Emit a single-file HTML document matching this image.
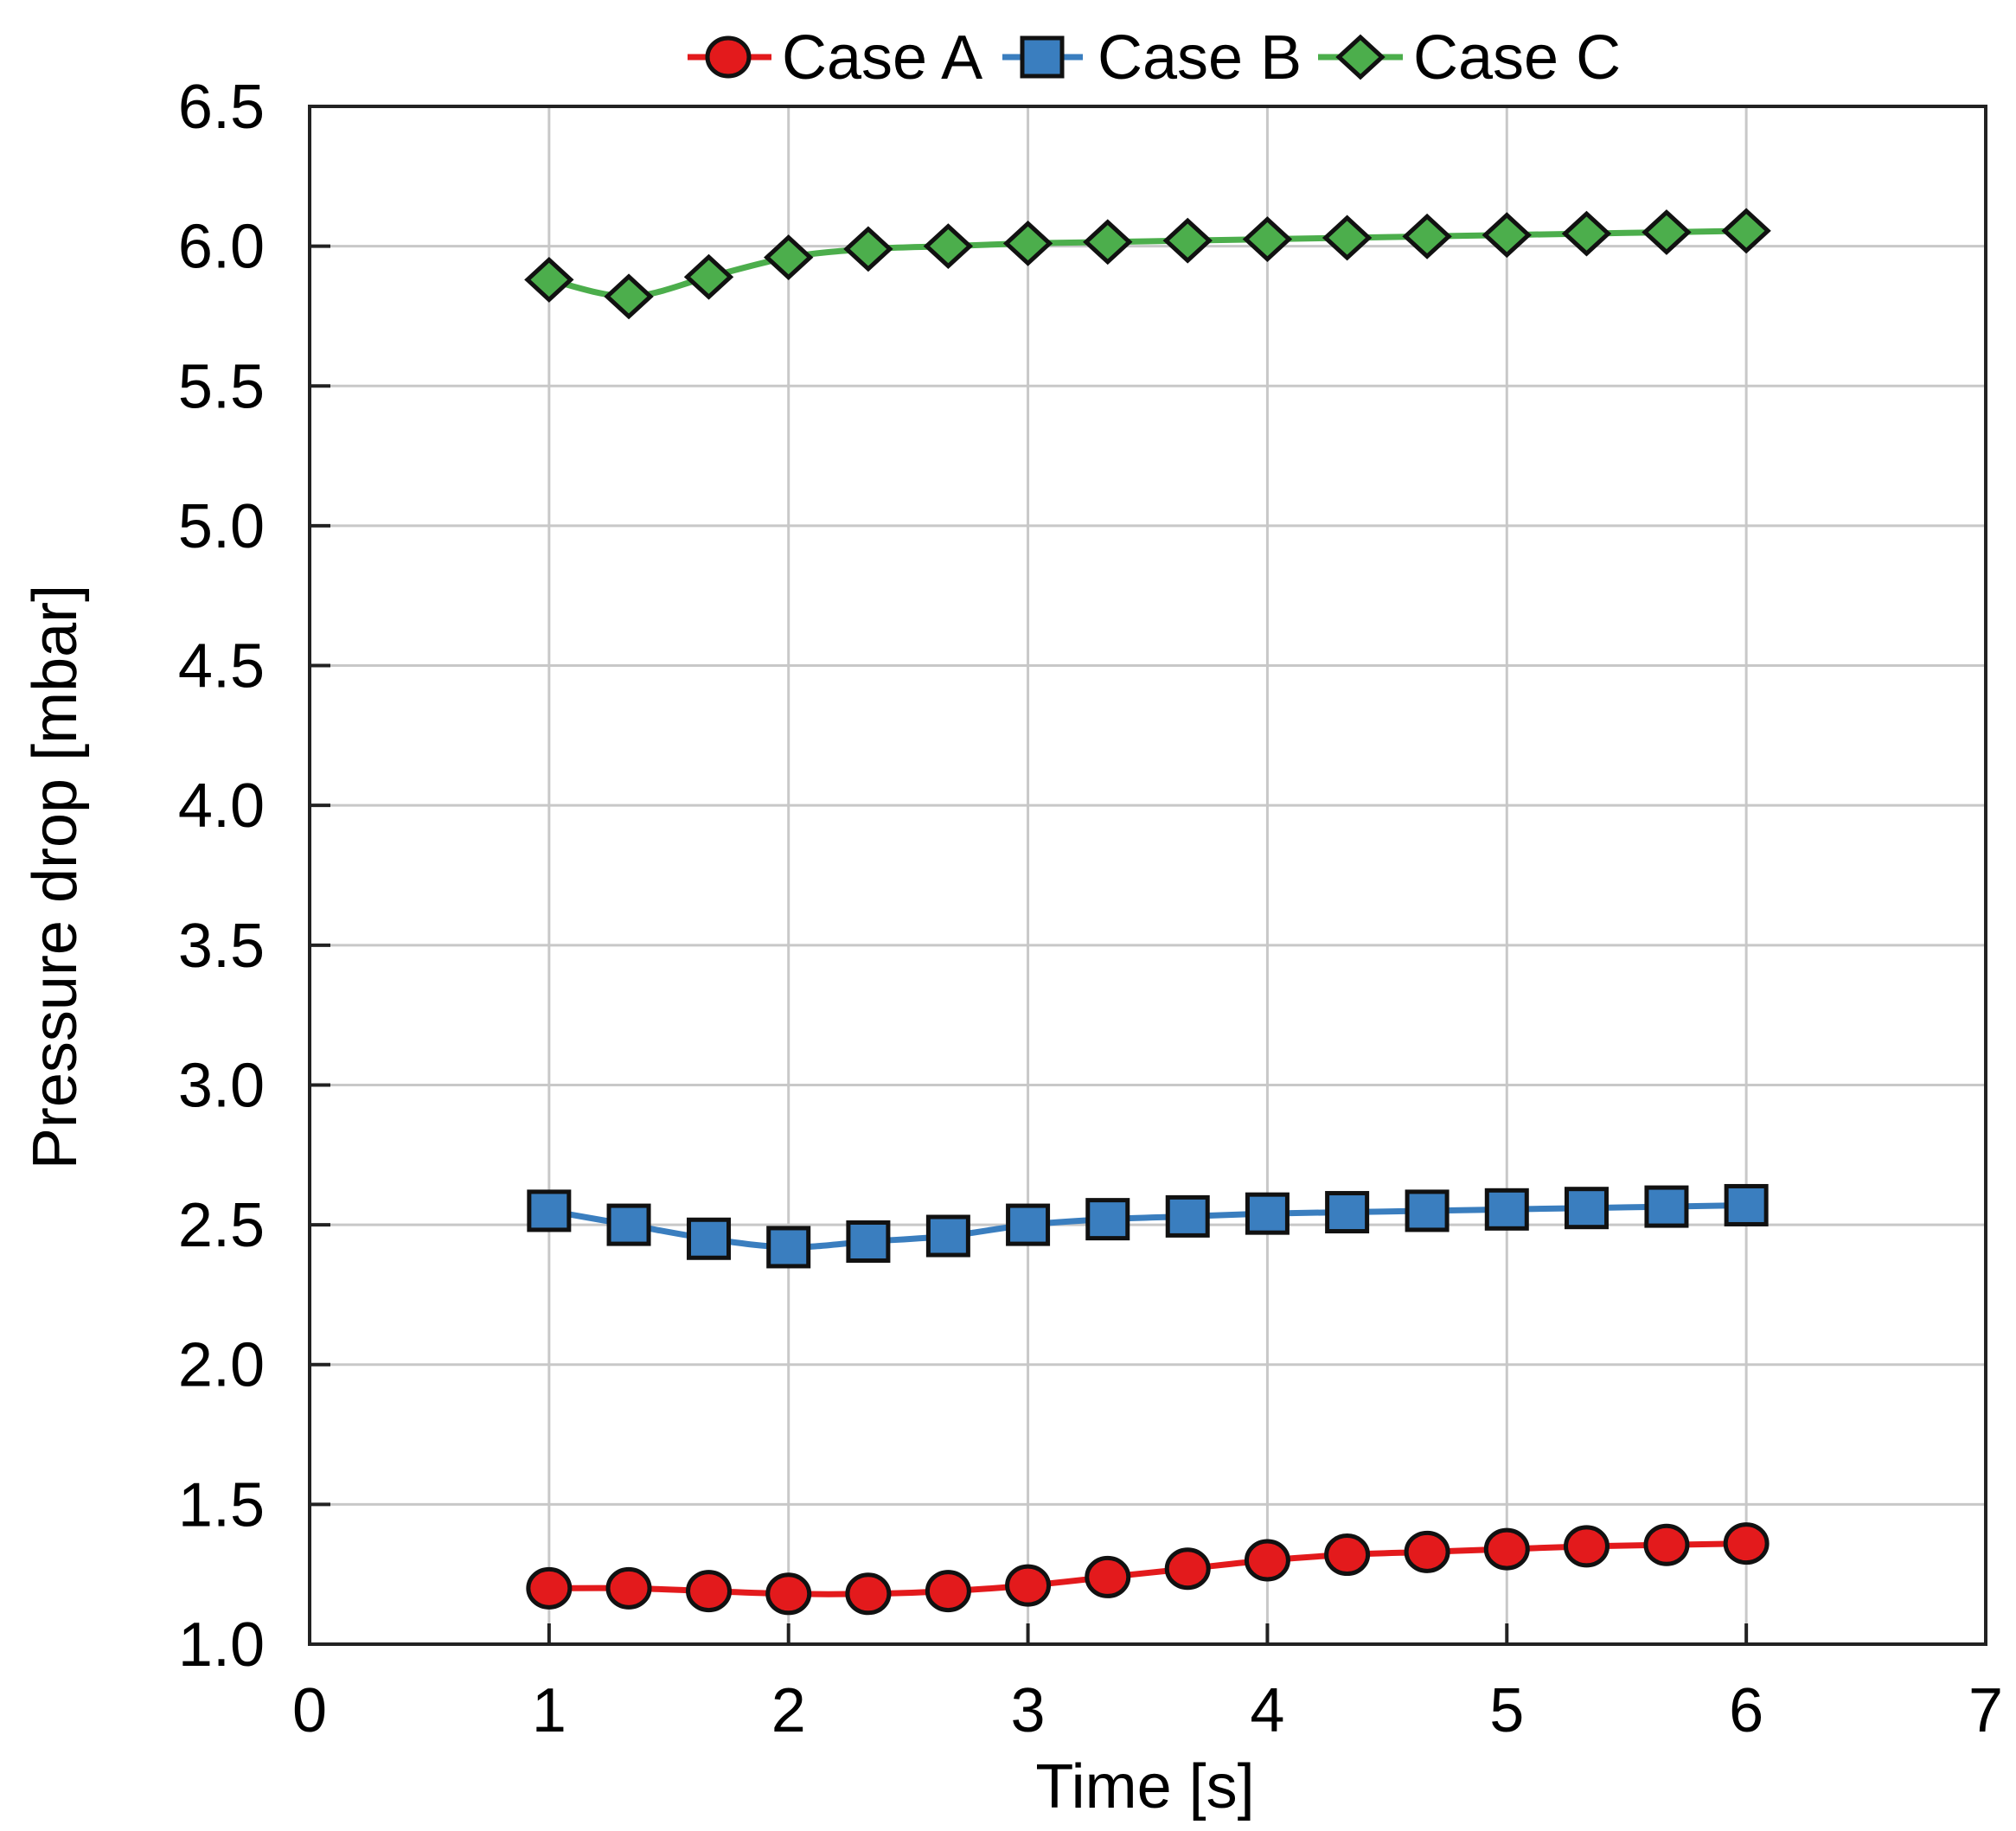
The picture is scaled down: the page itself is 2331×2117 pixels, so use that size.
<!DOCTYPE html>
<html><head><meta charset="utf-8"><style>
html,body{margin:0;padding:0;background:#fff;}
svg{display:block;font-family:"Liberation Sans",Arial,sans-serif;}
</style></head><body>
<svg id="chart" width="2331" height="2117" viewBox="0 0 2331 2117">
<g id="grid"></g>
<g id="axes"></g>
<g id="series"></g>
<g id="legend"></g>
<text x="1324" y="2090" font-size="72" text-anchor="middle">Time [s]</text>
<text transform="translate(88,1014) rotate(-90)" font-size="72" text-anchor="middle">Pressure drop [mbar]</text>
</svg>
<script>
const times = [1,1.333,1.667,2,2.333,2.667,3,3.333,3.667,4,4.333,4.667,5,5.333,5.667,6];
const caseA = [1.20,1.20,1.19,1.18,1.18,1.19,1.21,1.24,1.27,1.30,1.32,1.33,1.34,1.35,1.355,1.36];
const caseB = [2.55,2.50,2.45,2.42,2.44,2.46,2.50,2.52,2.53,2.54,2.545,2.55,2.555,2.56,2.565,2.57];
const caseC = [5.88,5.82,5.89,5.96,5.99,6.00,6.01,6.015,6.02,6.025,6.03,6.035,6.04,6.045,6.05,6.055];
const xTicks = [0,1,2,3,4,5,6,7];
const yTicks = [1.0,1.5,2.0,2.5,3.0,3.5,4.0,4.5,5.0,5.5,6.0,6.5];
const seriesNames = ['Case A','Case B','Case C'];

const L=358,R=2296,T=123,B=1901;
const X=v=>L+(v-0)/(7-0)*(R-L);
const Y=v=>B-(v-1)/(6.5-1)*(B-T);
const NS='http://www.w3.org/2000/svg';
function mk(tag,attrs,parent){const e=document.createElementNS(NS,tag);for(const k in attrs)e.setAttribute(k,attrs[k]);parent.appendChild(e);return e;}
const grid=document.getElementById('grid'),axes=document.getElementById('axes'),ser=document.getElementById('series'),leg=document.getElementById('legend');

xTicks.forEach(t=>{
  if(t>0&&t<7){const g=mk('line',{x1:X(t),x2:X(t),y1:T,y2:B,stroke:'#c8c8c8','stroke-width':3},grid);
  
  }
  const tk=mk('line',{x1:X(t),x2:X(t),y1:B,y2:B-24,stroke:'#222','stroke-width':4},axes);
  
  
  const tx=mk('text',{x:X(t),y:2002,'font-size':72,'text-anchor':'middle'},axes);tx.textContent=t;
  
  
});
yTicks.forEach(t=>{
  if(t>1&&t<6.5){const g=mk('line',{x1:L,x2:R,y1:Y(t),y2:Y(t),stroke:'#c8c8c8','stroke-width':3},grid);
  
  }
  const tk=mk('line',{x1:L,x2:L+24,y1:Y(t),y2:Y(t),stroke:'#222','stroke-width':4},axes);
  
  
  const tx=mk('text',{x:306,y:Y(t)+25,'font-size':72,'text-anchor':'end'},axes);tx.textContent=t.toFixed(1);
  
  
});
const fr=mk('rect',{x:L,y:T,width:R-L,height:B-T,fill:'none',stroke:'#222','stroke-width':4},axes);



function smooth(pts){let d='M'+pts[0][0]+','+pts[0][1];
  for(let i=0;i<pts.length-1;i++){const p0=pts[Math.max(0,i-1)],p1=pts[i],p2=pts[i+1],p3=pts[Math.min(pts.length-1,i+2)];
  d+=' C'+(p1[0]+(p2[0]-p0[0])/6)+','+(p1[1]+(p2[1]-p0[1])/6)+' '+(p2[0]-(p3[0]-p1[0])/6)+','+(p2[1]-(p3[1]-p1[1])/6)+' '+p2[0]+','+p2[1];}
  return d;}
function marker(kind,cx,cy,fill,parent){
  if(kind==='circle')return mk('ellipse',{cx:cx,cy:cy,rx:24,ry:22,fill:fill,stroke:'#111','stroke-width':5},parent);
  if(kind==='square')return mk('rect',{x:cx-23,y:cy-22,width:46,height:44,fill:fill,stroke:'#111','stroke-width':5},parent);
  return mk('polygon',{points:(cx-25)+','+cy+' '+cx+','+(cy-23)+' '+(cx+25)+','+cy+' '+cx+','+(cy+23),fill:fill,stroke:'#111','stroke-width':5},parent);
}
const defs=[[caseA,'#e31a1c','#e31a1c','circle','case-a'],[caseB,'#3a7ebf','#3a7ebf','square','case-b'],[caseC,'#4cae4c','#4cae4c','diamond','case-c']];
defs.forEach(([vals,lc,fc,kind,nm])=>{
  const pts=times.map((t,i)=>[X(t),Y(vals[i])]);
  const p=mk('path',{d:smooth(pts),fill:'none',stroke:lc,'stroke-width':7},ser);
  
  
  pts.forEach(q=>{const m=marker(kind,q[0],q[1],fc,ser);
    
    });
});
const legPos=[[795,892,842,904],[1159,1252,1205,1269],[1524,1622,1573,1634]];
defs.forEach(([vals,lc,fc,kind,nm],i)=>{
  const [a,b,c,tx]=legPos[i];
  const ln=mk('line',{x1:a,x2:b,y1:66,y2:66,stroke:lc,'stroke-width':7},leg);
  
  
  const m=marker(kind,c,66,fc,leg);
  
  
  const t=mk('text',{x:tx,y:91,'font-size':72},leg);t.textContent=seriesNames[i];
  
  
});
</script>
</body></html>
